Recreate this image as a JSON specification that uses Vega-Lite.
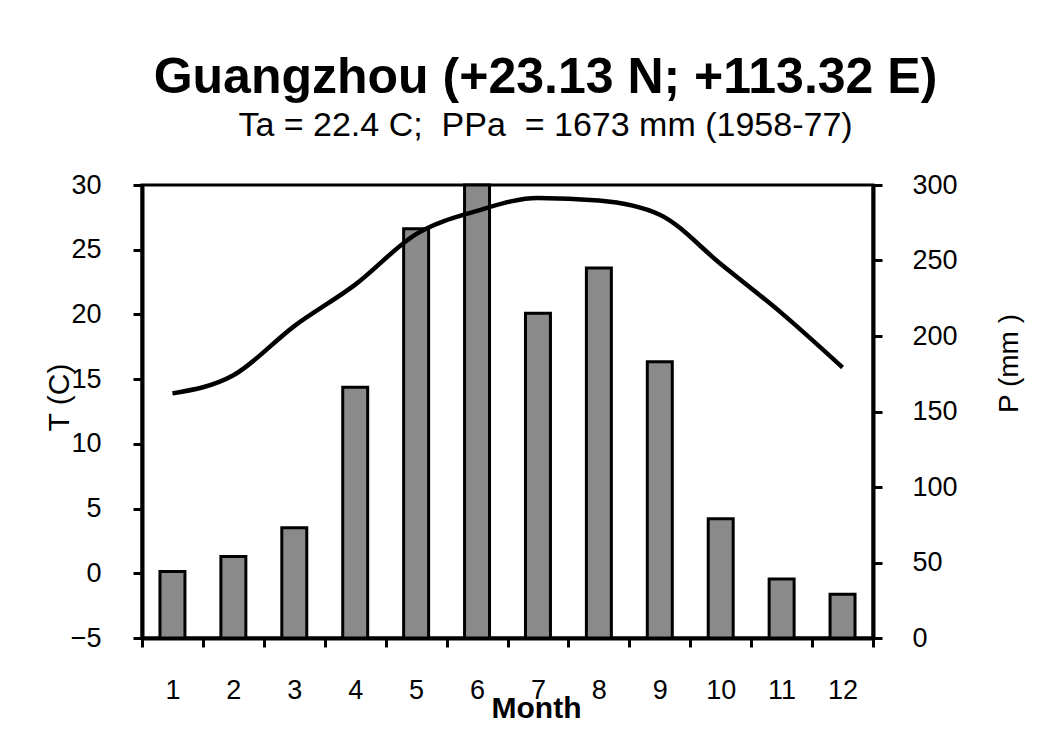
{
  "$schema": "https://vega.github.io/schema/vega-lite/v6.json",
  "width": 731,
  "height": 453,
  "autosize": {"type": "none"},
  "padding": {"left": 142, "top": 185, "right": 168, "bottom": 113},
  "background": "white",
  "title": {
    "text": "Guangzhou (+23.13 N; +113.32 E)",
    "subtitle": "Ta = 22.4 C;\u00a0\u00a0PPa\u00a0\u00a0= 1673 mm (1958-77)",
    "anchor": "middle",
    "dx": 38,
    "offset": 28,
    "font": "Liberation Sans",
    "fontSize": 50,
    "fontWeight": "bold",
    "color": "black",
    "subtitleFont": "Liberation Sans",
    "subtitleFontSize": 34,
    "subtitleColor": "black",
    "subtitlePadding": 6
  },
  "data": {
    "values": [
      {"Month": 1, "P": 44, "T": 13.9},
      {"Month": 2, "P": 54, "T": 15.3},
      {"Month": 3, "P": 73, "T": 19.1},
      {"Month": 4, "P": 166, "T": 22.3},
      {"Month": 5, "P": 271, "T": 26.2},
      {"Month": 6, "P": 300, "T": 28.0},
      {"Month": 7, "P": 215, "T": 29.0},
      {"Month": 8, "P": 245, "T": 28.8},
      {"Month": 9, "P": 183, "T": 27.7},
      {"Month": 10, "P": 79, "T": 23.9},
      {"Month": 11, "P": 39, "T": 20.1},
      {"Month": 12, "P": 29, "T": 15.9}
    ]
  },
  "encoding": {
    "x": {
      "field": "Month",
      "type": "ordinal",
      "scale": {"paddingInner": 0, "paddingOuter": 0},
      "axis": {
        "orient": "bottom",
        "labelAngle": 0,
        "tickBand": "extent",
        "labelPadding": 30,
        "title": "Month",
        "titleFontSize": 30,
        "titleFontWeight": "bold",
        "titleX": 394,
        "titleY": 79,
        "titleAlign": "center",
        "titleBaseline": "alphabetic"
      }
    }
  },
  "layer": [
    {
      "mark": {"type": "bar", "fill": "#8a8a8a", "stroke": "black", "strokeWidth": 3, "width": {"band": 0.41}},
      "encoding": {
        "y": {
          "field": "P",
          "type": "quantitative",
          "scale": {"domain": [0, 300], "nice": false},
          "axis": {
            "orient": "right",
            "values": [0, 50, 100, 150, 200, 250, 300],
            "labelPadding": 30,
            "labelAlign": "left",
            "title": "P (mm )",
            "titleFontSize": 28,
            "titleFontWeight": "normal",
            "titleAngle": 270,
            "titleX": 144,
            "titleY": 178,
            "titleAlign": "center",
            "titleBaseline": "alphabetic"
          }
        }
      }
    },
    {
      "mark": {"type": "line", "color": "black", "strokeWidth": 4.5, "interpolate": "monotone"},
      "encoding": {
        "y": {
          "field": "T",
          "type": "quantitative",
          "scale": {"domain": [-5, 30], "nice": false, "zero": false},
          "axis": {
            "orient": "left",
            "values": [-5, 0, 5, 10, 15, 20, 25, 30],
            "labelPadding": 32,
            "title": "T (C)",
            "titleFontSize": 30,
            "titleFontWeight": "normal",
            "titleAngle": 270,
            "titleX": -74,
            "titleY": 212,
            "titleAlign": "center",
            "titleBaseline": "alphabetic"
          }
        }
      }
    }
  ],
  "resolve": {"scale": {"y": "independent"}},
  "config": {
    "view": {"stroke": "black", "strokeWidth": 3},
    "axis": {
      "grid": false,
      "domainColor": "black",
      "domainWidth": 4,
      "tickColor": "black",
      "tickWidth": 3,
      "tickSize": 9,
      "labelFont": "Liberation Sans",
      "labelFontSize": 27,
      "labelColor": "black",
      "titleFont": "Liberation Sans",
      "titleColor": "black"
    }
  }
}
